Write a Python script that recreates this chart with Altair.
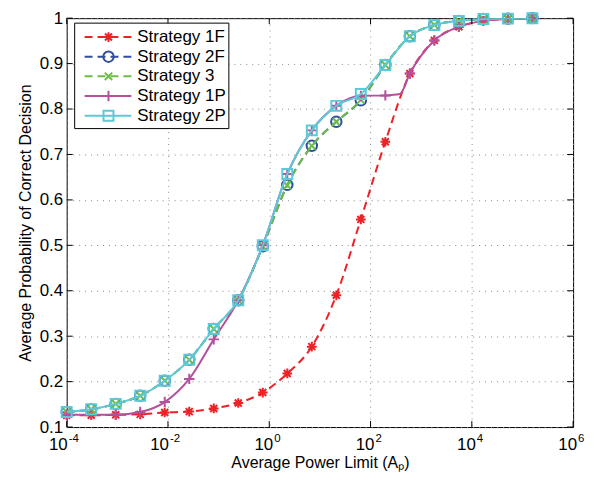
import altair as alt
import pandas as pd

# ---- data ----
x_log = [-4.0, -3.516, -3.032, -2.548, -2.064, -1.58, -1.096, -0.612, -0.128, 0.356,
         0.84, 1.324, 1.808, 2.292, 2.776, 3.26, 3.744, 4.228, 4.712, 5.196]

names = ["Strategy 1F", "Strategy 2F", "Strategy 3", "Strategy 1P", "Strategy 2P"]

s1F = [0.126, 0.126, 0.127, 0.128, 0.132, 0.134, 0.141, 0.153, 0.176, 0.218,
       0.277, 0.390, 0.557, 0.728, 0.878, 0.951, 0.981, 0.994, 0.998, 1.0]
s2F = [0.133, 0.139, 0.151, 0.169, 0.202, 0.248, 0.316, 0.379, 0.498, 0.633,
       0.719, 0.772, 0.819, 0.897, 0.960, 0.985, 0.994, 0.998, 0.999, 1.0]
s3 = [0.133, 0.139, 0.151, 0.169, 0.202, 0.248, 0.316, 0.379, 0.498, 0.632,
      0.719, 0.772, 0.820, 0.897, 0.960, 0.985, 0.994, 0.998, 0.999, 1.0]
s1P = [0.127, 0.127, 0.127, 0.133, 0.155, 0.206, 0.293, 0.379, 0.500, 0.657,
       0.753, 0.807, 0.829, 0.830, 0.878, 0.951, 0.981, 0.994, 0.998, 1.0]
s2P = [0.133, 0.139, 0.151, 0.169, 0.202, 0.248, 0.316, 0.379, 0.500, 0.657,
       0.753, 0.807, 0.833, 0.897, 0.960, 0.985, 0.994, 0.998, 0.999, 1.0]

# extra line-only point: kink where Strategy 1P switches to the 1F curve
kink_1P_log = 2.58
kink_1P_val = 0.833

xtick_exps = [-4, -2, 0, 2, 4, 6]
xtick_base = ["10", "10", "10", "10", "10", "10"]
xtick_sup = ["-4", "-2", "0", "2", "4", "6"]
ytick_vals = [0.1, 0.2, 0.3, 0.4, 0.5, 0.6, 0.7, 0.8, 0.9, 1.0]

# ---- styles ----
colors = ["#EC2227", "#2F4EA2", "#6BBE45", "#B5509F", "#5DC9D7"]
dashes = [[8, 5], [8, 5], [8, 5], None, None]
ASTER = "M-1,0L1,0M0,-1L0,1M-0.72,-0.72L0.72,0.72M-0.72,0.72L0.72,-0.72"
CROSS = "M-1,-1L1,1M-1,1L1,-1"
PLUS = "M-1,0L1,0M0,-1L0,1"
shapes = [ASTER, "circle", CROSS, PLUS, "square"]
sizes = [95, 110, 55, 110, 100]

W, H = 509, 411
FONT = "Liberation Sans"

series_vals = [s1F, s2F, s3, s1P, s2P]
xvals = [10 ** v for v in x_log]

xscale = alt.Scale(type="log", domain=[1e-4, 1e6])
yscale = alt.Scale(domain=[0.1, 1.0])

xaxis = alt.Axis(
    values=[10.0 ** e for e in xtick_exps],
    labels=False,
    title="Average Power Limit (A\u209a)",
    grid=True, ticks=False, domain=False,
    titlePadding=28,
)
yaxis = alt.Axis(
    values=ytick_vals,
    labelExpr="datum.value == 1 ? '1' : format(datum.value, '.1f')",
    title="Average Probability of Correct Decision",
    grid=True, ticks=False, domain=False,
    labelPadding=4, titlePadding=6,
)


def X(field="x"):
    return alt.X(field + ":Q", scale=xscale, axis=xaxis)


def Y(field="y"):
    return alt.Y(field + ":Q", scale=yscale, axis=yaxis)


layers = []
for i, name in enumerate(names):
    vals = series_vals[i]
    df_pts = pd.DataFrame({"x": xvals, "y": vals, "series": name})
    lx = list(xvals)
    ly = list(vals)
    if name == "Strategy 1P":
        lx = lx[:14] + [10 ** kink_1P_log] + lx[14:]
        ly = ly[:14] + [kink_1P_val] + ly[14:]
    df_line = pd.DataFrame({"x": lx, "y": ly, "series": name})
    line_kw = dict(color=colors[i], strokeWidth=2, interpolate="monotone", clip=True)
    if dashes[i]:
        line_kw["strokeDash"] = dashes[i]
    line = alt.Chart(df_line).mark_line(**line_kw).encode(x=X(), y=Y())
    pts = alt.Chart(df_pts).mark_point(
        shape=shapes[i], filled=False, color=colors[i], size=sizes[i],
        strokeWidth=2, opacity=1
    ).encode(x=X(), y=Y())
    layers += [line, pts]

# inward tick marks (MATLAB style)
xt_df = pd.DataFrame({"x": [10.0 ** e for e in xtick_exps], "base": xtick_base,
                      "sup": xtick_sup, "neg": [e < 0 for e in xtick_exps]})
yt_df = pd.DataFrame({"y": ytick_vals})
tick_style = dict(color="black", strokeWidth=1)
layers.append(alt.Chart(xt_df).mark_rule(**tick_style).encode(
    x=X(), y=alt.value(H), y2=alt.value(H - 6)))
layers.append(alt.Chart(xt_df).mark_rule(**tick_style).encode(
    x=X(), y=alt.value(0), y2=alt.value(6)))
layers.append(alt.Chart(yt_df).mark_rule(**tick_style).encode(
    y=Y(), x=alt.value(0), x2=alt.value(6)))
layers.append(alt.Chart(yt_df).mark_rule(**tick_style).encode(
    y=Y(), x=alt.value(W), x2=alt.value(W - 6)))

# x tick labels: "10" with a raised exponent
for neg, dx_base in [(True, 1), (False, 4)]:
    sub = alt.Chart(xt_df).transform_filter(
        "datum.neg" if neg else "!datum.neg")
    layers.append(sub.mark_text(
        align="right", baseline="alphabetic", font=FONT, fontSize=17, color="black",
        dx=dx_base).encode(x=X(), y=alt.value(H + 23), text="base:N"))
    layers.append(sub.mark_text(
        align="left", baseline="alphabetic", font=FONT, fontSize=11.5, color="black",
        dx=dx_base + 1).encode(x=X(), y=alt.value(H + 15), text="sup:N"))

# legend
leg_df = pd.DataFrame({"series": names})
LT = 5
layers.append(alt.Chart(leg_df.head(1)).mark_rect(
    fill="white", stroke="black", strokeWidth=1).encode(
    x=alt.value(8), x2=alt.value(163), y=alt.value(LT), y2=alt.value(LT + 106)))
for i, name in enumerate(names):
    row = leg_df[leg_df.series == name]
    yy = LT + 14 + 19.75 * i
    rk = dict(color=colors[i], strokeWidth=2)
    if dashes[i]:
        rk["strokeDash"] = dashes[i]
    layers.append(alt.Chart(row).mark_rule(**rk).encode(
        x=alt.value(18), x2=alt.value(65), y=alt.value(yy)))
    layers.append(alt.Chart(row).mark_point(
        shape=shapes[i], filled=False, color=colors[i], size=sizes[i],
        strokeWidth=2, opacity=1).encode(x=alt.value(42), y=alt.value(yy)))
    layers.append(alt.Chart(row).mark_text(
        align="left", baseline="middle", font=FONT, fontSize=17, color="black").encode(
        x=alt.value(71), y=alt.value(yy), text="series:N"))

chart = alt.layer(*layers).properties(
    width=W, height=H,
    padding={"left": 59, "top": 9, "right": 20, "bottom": 52},
    autosize=alt.AutoSizeParams(type="none"),
).configure_view(
    stroke="black", strokeWidth=1
).configure_axis(
    labelFont=FONT, labelFontSize=17, labelColor="black",
    titleFont=FONT, titleFontSize=16, titleColor="black", titleFontWeight="normal",
    gridColor="#8a8a8a", gridDash=[1, 5], gridWidth=1,
)

chart.save("out.html", embed_options={"renderer": "svg", "actions": False})
